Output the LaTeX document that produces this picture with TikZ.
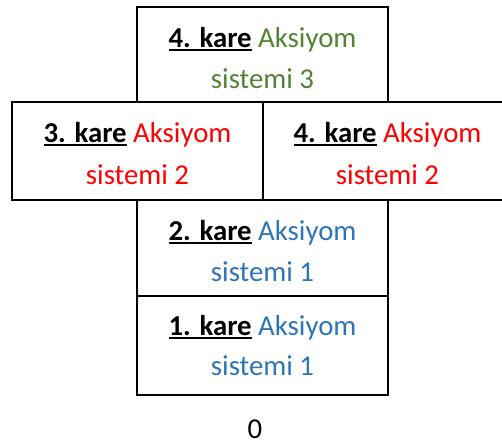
\documentclass[tikz,border=0pt]{standalone}
\usepackage{fontspec}
\setmainfont{Carlito}
\definecolor{axgreen}{HTML}{548235}
\definecolor{axred}{HTML}{FF0000}
\definecolor{axblue}{HTML}{2E75B6}
% bold, underlined square number
\newcommand{\karelabel}[1]{\setbox0\hbox{\bfseries #1}\rlap{\rule[-3.6pt]{\wd0}{1.9pt}}\box0\relax}
\begin{document}
\begin{tikzpicture}[x=1pt,y=-1pt,
  kutu/.style={draw=black,line width=2pt,rectangle,inner sep=0pt,outer sep=0pt},
  satir/.style={anchor=base,inner sep=0pt,font=\fontsize{28.8}{40}\selectfont}]
\useasboundingbox (0,0) rectangle (502,445);
% squares
\node[kutu,minimum width=251pt,minimum height=95pt] (k4u) at (262.5,54.5) {};
\node[kutu,minimum width=251pt,minimum height=98pt] (k3) at (137.5,151) {};
\node[kutu,minimum width=249pt,minimum height=98pt] (k4s) at (387.5,151) {};
\node[kutu,minimum width=251pt,minimum height=96pt] (k2) at (262.5,248) {};
\node[kutu,minimum width=251pt,minimum height=99pt] (k1) at (262.5,345.5) {};
% labels: first line 40pt, second line 81pt below the top edge
\node[satir] (k4u-a) at ([yshift=-40pt]k4u.north) {\karelabel{4. kare} \textcolor{axgreen}{Aksiyom}};
\node[satir] (k4u-b) at ([yshift=-81pt]k4u.north) {\textcolor{axgreen}{sistemi 3}};
\node[satir] (k3-a) at ([yshift=-40pt]k3.north) {\karelabel{3. kare} \textcolor{axred}{Aksiyom}};
\node[satir] (k3-b) at ([yshift=-82pt]k3.north) {\textcolor{axred}{sistemi 2}};
\node[satir] (k4s-a) at ([yshift=-40pt]k4s.north) {\karelabel{4. kare} \textcolor{axred}{Aksiyom}};
\node[satir] (k4s-b) at ([yshift=-82pt]k4s.north) {\textcolor{axred}{sistemi 2}};
\node[satir] (k2-a) at ([yshift=-40pt]k2.north) {\karelabel{2. kare} \textcolor{axblue}{Aksiyom}};
\node[satir] (k2-b) at ([yshift=-81pt]k2.north) {\textcolor{axblue}{sistemi 1}};
\node[satir] (k1-a) at ([yshift=-39pt]k1.north) {\karelabel{1. kare} \textcolor{axblue}{Aksiyom}};
\node[satir] (k1-b) at ([yshift=-79pt]k1.north) {\textcolor{axblue}{sistemi 1}};
% ground level
\node[satir,text depth=0pt] (sifir) at (255,438.5) {0};
\end{tikzpicture}
\end{document}
